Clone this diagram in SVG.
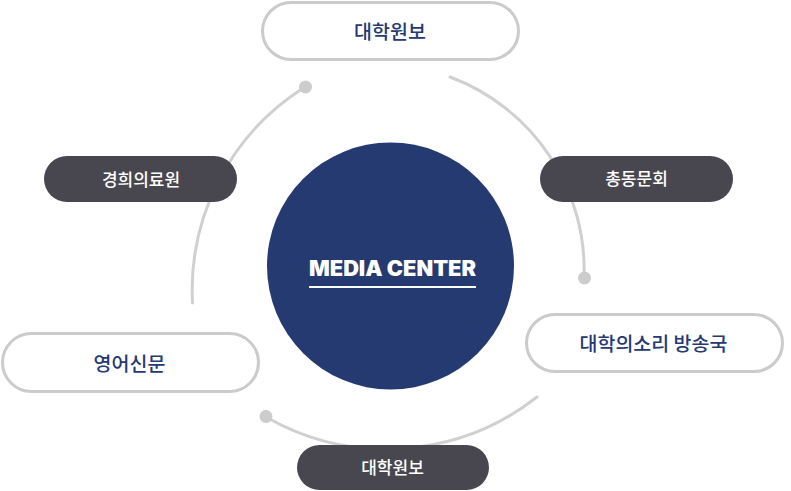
<svg xmlns="http://www.w3.org/2000/svg" width="791" height="491" viewBox="0 0 791 491">
<style>
.ring{fill:none;stroke:#d0d0d0;stroke-width:3;stroke-linecap:round}
.dot{fill:#cccccc}
.out{fill:#ffffff;stroke:#cbcbcb;stroke-width:3}
.dark{fill:#48474f}
.kt{font-family:"Noto Sans CJK KR","Noto Sans",sans-serif;font-weight:500;text-anchor:middle}
.navy{fill:#253a73;font-size:19.5px}
.white{fill:#ffffff;font-size:17px}
</style>
<rect width="791" height="491" fill="#ffffff"/>
<g id="connectors">
<path class="ring" d="M305,87 A240,240 0 0 0 192.5,303"/>
<path class="ring" d="M450,77 A206,206 0 0 1 584,278"/>
<path class="ring" d="M266,417 A243,243 0 0 0 537,397"/>
<circle class="dot" cx="305.5" cy="87" r="6.5"/>
<circle class="dot" cx="584.5" cy="278" r="6.5"/>
<circle class="dot" cx="266" cy="416.5" r="6.5"/>
</g>
<g id="center">
<circle cx="390.5" cy="266" r="123.5" fill="#253a71"/>
<text x="309" y="276" font-family="Inter,'Liberation Sans',sans-serif" font-weight="900" font-size="21" fill="#ffffff" textLength="167" lengthAdjust="spacingAndGlyphs">MEDIA CENTER</text>
<rect x="309" y="286" width="167" height="2" fill="#ffffff"/>
</g>
<g id="node-top">
<rect class="out" x="262.5" y="2.5" width="256" height="57" rx="28.5"/>
<text class="kt navy" x="390" y="38.5">대학원보</text>
</g>
<g id="node-kyunghee">
<rect class="dark" x="44" y="156" width="193" height="46" rx="23"/>
<text class="kt white" x="141" y="185.5">경희의료원</text>
</g>
<g id="node-alumni">
<rect class="dark" x="540" y="156" width="193" height="46" rx="23"/>
<text class="kt white" x="636.5" y="185">총동문회</text>
</g>
<g id="node-english">
<rect class="out" x="2.5" y="333.5" width="256" height="58" rx="29"/>
<text class="kt navy" x="129.5" y="370.5">영어신문</text>
</g>
<g id="node-broadcast">
<rect class="out" x="526.5" y="314.5" width="256" height="57" rx="28.5"/>
<text class="kt navy" x="653.5" y="350.5">대학의소리 방송국</text>
</g>
<g id="node-bottom">
<rect class="dark" x="297" y="445" width="192" height="45" rx="22.5"/>
<text class="kt white" x="392.5" y="474">대학원보</text>
</g>
</svg>
